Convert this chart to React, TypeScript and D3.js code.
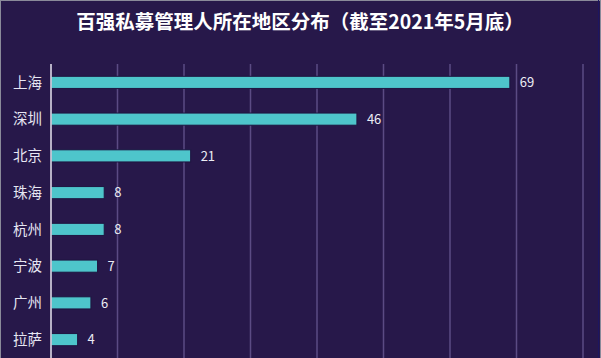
import React from "react";
import * as d3 from "d3";

const categories = ["上海", "深圳", "北京", "珠海", "杭州", "宁波", "广州", "拉萨"];
const values = [69, 46, 21, 8, 8, 7, 6, 4];
const xTicks = [0, 10, 20, 30, 40, 50, 60, 70, 80];
const title = "百强私募管理人所在地区分布（截至2021年5月底）";

export default function App() {
  const W = 601, H = 358;
  const left = 51, right = 583, top = 64, bottom = 358;
  const x = d3.scaleLinear().domain([0, 80]).range([left, right]);
  const y = d3.scaleBand().domain(categories).range([top, bottom]).paddingInner(0.67).paddingOuter(0.335);
  const font = "'Noto Sans CJK SC', 'Noto Sans', sans-serif";
  return (
    <svg width={W} height={H} style={{ position: "absolute", left: 0, top: 0 }}>
      <rect x={0} y={0} width={W} height={H} fill="#27184a" />
      <rect x={0.5} y={0.5} width={W - 1} height={H} fill="none" stroke="#8a8a9a" strokeWidth={1} />
      <line x1={598.5} x2={598.5} y1={0} y2={H} stroke="#1c1560" strokeWidth={1} />
      <text x={300} y={29} textAnchor="middle" fill="#ffffff" fontFamily={font} fontWeight="bold" fontSize={19.5}>{title}</text>
      {xTicks.slice(1).map((t) => (
        <line key={t} x1={x(t)} x2={x(t)} y1={top} y2={bottom} stroke="#5b4b84" strokeWidth={1.5} />
      ))}
      {categories.map((c, i) => (
        <g key={c}>
          <rect x={x(0)} y={y(c)!} width={x(values[i]) - x(0)} height={y.bandwidth()} fill="#4ec5cb" stroke="#1e1540" strokeWidth={1} />
          <text x={42} y={y(c)! + y.bandwidth() / 2} dy="0.36em" textAnchor="end" fill="#e6e6f2" fontFamily={font} fontSize={14.5}>{c}</text>
          <text x={x(values[i]) + 10} y={y(c)! + y.bandwidth() / 2} dy="0.36em" fill="#ececf4" fontFamily={font} fontSize={13}>{values[i]}</text>
        </g>
      ))}
      <line x1={x(0)} x2={x(0)} y1={top} y2={bottom} stroke="#e8e4f0" strokeWidth={1.5} />
    </svg>
  );
}
